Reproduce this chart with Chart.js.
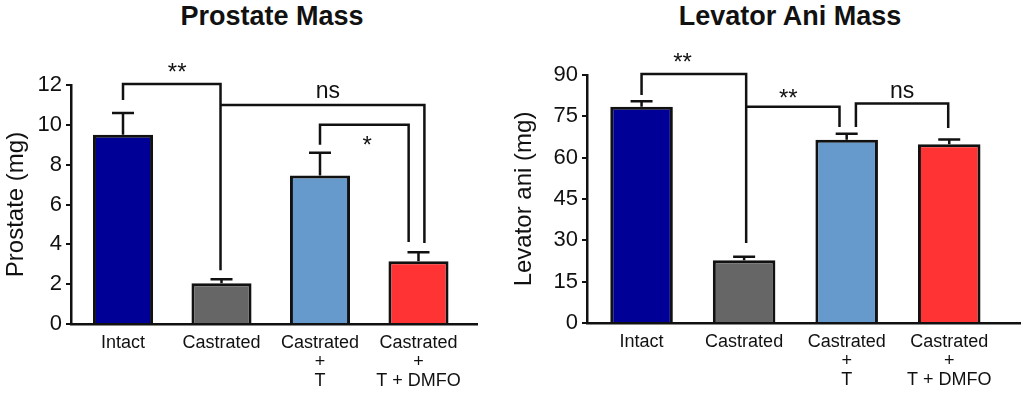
<!DOCTYPE html>
<html>
  <head>
    <meta charset="utf-8" />
    <title>Prostate and Levator Ani Mass</title>
    <script src="https://cdn.jsdelivr.net/npm/chart.js"></script>
    <style>
      body { margin: 0; background: #fff; }
      .wrap { position: relative; width: 1024px; height: 396px; }
      canvas { position: absolute; top: 0; }
      #prostateChart { left: 0; }
      #levatorChart { left: 512px; }
      .title {
        position: absolute;
        top: 0;
        font: bold 27px "Liberation Sans", Arial, sans-serif;
        line-height: 32px;
        color: #111;
        white-space: nowrap;
        transform: translateX(-50%);
      }
    </style>
  </head>
  <body>
    <div class="wrap">
      <div class="title" style="left: 272px">Prostate Mass</div>
      <div class="title" style="left: 790px">Levator Ani Mass</div>
      <canvas id="prostateChart" width="512" height="396"></canvas>
      <canvas id="levatorChart" width="512" height="396"></canvas>
    </div>

    <script>
      // groups, shared by both panels
      const groups = [
        ["Intact"],
        ["Castrated"],
        ["Castrated", "+", "T"],
        ["Castrated", "+", "T + DMFO"],
      ];
      const groupColors = ["#000096", "#666666", "#6699cc", "#ff3333"];

      // prostate (mg): mean and SEM
      const prostateMean = [9.5, 2.05, 7.45, 3.15];
      const prostateSem = [1.1, 0.2, 1.15, 0.45];
      const prostateTicks = [0, 2, 4, 6, 8, 10, 12];
      // significance brackets, x in group index, y in mg
      const prostateBrackets = [
        { x1: 0, x2: 0.99, y: 12.05, y1: 11.25, y2: 2.7 },
        { x1: 0.99, x2: 3.06, y: 11.0, y1: null, y2: 4.07 },
        { x1: 2, x2: 2.9, y: 10.0, y1: 9.0, y2: 4.12 },
      ];
      const prostateMarks = [
        { x: 0.55, y: 12.26, text: "**" },
        { x: 2.08, y: 11.36, text: "ns" },
        { x: 2.48, y: 8.6, text: "*" },
      ];

      // levator ani (mg): mean and SEM
      const levatorMean = [78.5, 22.8, 66.5, 64.9];
      const levatorSem = [2.0, 1.2, 2.2, 1.7];
      const levatorTicks = [0, 15, 30, 45, 60, 75, 90];
      const levatorBrackets = [
        { x1: 0, x2: 1.02, y: 90.4, y1: 82.7, y2: 29.0 },
        { x1: 1.02, x2: 1.93, y: 78.5, y1: null, y2: 71.1 },
        { x1: 2.09, x2: 2.99, y: 79.7, y1: 71.1, y2: 70.8 },
      ];
      const levatorMarks = [
        { x: 0.4, y: 91.8, text: "**" },
        { x: 1.43, y: 78.7, text: "**" },
        { x: 2.54, y: 81.7, text: "ns" },
      ];

      const FONT = '"Liberation Sans", Arial, sans-serif';
      const INK = "#111";

      // error bars + brackets + significance labels
      const annotate = {
        id: "annotate",
        afterDatasetsDraw(chart, args, opts) {
          const { ctx } = chart;
          const x = chart.scales.x, y = chart.scales.y;
          ctx.save();
          ctx.strokeStyle = INK;
          ctx.lineWidth = 2.5;
          opts.sem.forEach((s, i) => {
            const px = x.getPixelForValue(i);
            const y0 = y.getPixelForValue(opts.mean[i]);
            const y1 = y.getPixelForValue(opts.mean[i] + s);
            ctx.beginPath();
            ctx.moveTo(px, y0);
            ctx.lineTo(px, y1);
            ctx.moveTo(px - 11, y1);
            ctx.lineTo(px + 11, y1);
            ctx.stroke();
          });

          ctx.lineWidth = 2.5;
          opts.brackets.forEach((b) => {
            const xa = x.getPixelForValue(b.x1), xb = x.getPixelForValue(b.x2);
            const yy = y.getPixelForValue(b.y);
            ctx.beginPath();
            if (b.y1 !== null) {
              ctx.moveTo(xa, y.getPixelForValue(b.y1));
              ctx.lineTo(xa, yy);
            } else {
              ctx.moveTo(xa, yy);
            }
            ctx.lineTo(xb, yy);
            ctx.lineTo(xb, y.getPixelForValue(b.y2));
            ctx.stroke();
          });

          ctx.fillStyle = INK;
          ctx.textAlign = "center";
          ctx.textBaseline = "alphabetic";
          opts.marks.forEach((m) => {
            ctx.font = (m.text === "ns" ? "23px " : "24px ") + FONT;
            ctx.fillText(m.text, x.getPixelForValue(m.x), y.getPixelForValue(m.y));
          });
          ctx.restore();
        },
      };

      function makeChart(id, mean, sem, ticks, yTitle, brackets, marks, g) {
        return new Chart(document.getElementById(id), {
          type: "bar",
          data: {
            datasets: [
              {
                data: mean.map((v, i) => ({ x: i, y: v })),
                backgroundColor: groupColors,
                borderColor: INK,
                borderWidth: 3,
                categoryPercentage: 1,
                barPercentage: 0.61,
              },
            ],
          },
          options: {
            responsive: false,
            animation: false,
            layout: { padding: { top: g.padTop, right: g.padRight, left: 0, bottom: 0 } },
            plugins: {
              legend: { display: false },
              tooltip: { enabled: false },
              annotate: { mean: mean, sem: sem, brackets: brackets, marks: marks },
            },
            scales: {
              x: {
                type: "linear",
                offset: false,
                min: g.xMin,
                max: g.xMax,
                grid: { display: false, drawTicks: false, offset: false },
                border: { display: true, color: INK, width: 2.5 },
                afterBuildTicks: (s) => { s.ticks = groups.map((_, i) => ({ value: i })); },
                afterFit: (s) => { s.height = g.xHeight; },
                ticks: {
                  autoSkip: false,
                  maxRotation: 0,
                  padding: 10,
                  color: INK,
                  font: { family: FONT, size: 18, lineHeight: 1.05 },
                  callback: (v) => groups[v],
                },
              },
              y: {
                min: ticks[0],
                max: ticks[ticks.length - 1],
                afterBuildTicks: (s) => { s.ticks = ticks.map((v) => ({ value: v })); },
                afterFit: (s) => { s.width = g.yWidth; },
                grid: { drawOnChartArea: false, color: INK, lineWidth: 2, tickLength: 5 },
                border: { display: true, color: INK, width: 2.5 },
                ticks: { padding: 4, color: INK, font: { family: FONT, size: 22 } },
                title: {
                  display: true,
                  text: yTitle,
                  color: INK,
                  padding: { top: g.titlePad, bottom: 0 },
                  font: { family: FONT, size: 24, lineHeight: 1 },
                },
              },
            },
          },
          plugins: [annotate],
        });
      }

      makeChart("prostateChart", prostateMean, prostateSem, prostateTicks, "Prostate (mg)",
        prostateBrackets, prostateMarks,
        { xMin: -0.528, xMax: 3.594, padTop: 85, padRight: 35, xHeight: 72, yWidth: 71, titlePad: 4 });

      makeChart("levatorChart", levatorMean, levatorSem, levatorTicks, "Levator ani (mg)",
        levatorBrackets, levatorMarks,
        { xMin: -0.532, xMax: 3.69, padTop: 75, padRight: 4, xHeight: 73, yWidth: 75, titlePad: 0 });
    </script>
  </body>
</html>
